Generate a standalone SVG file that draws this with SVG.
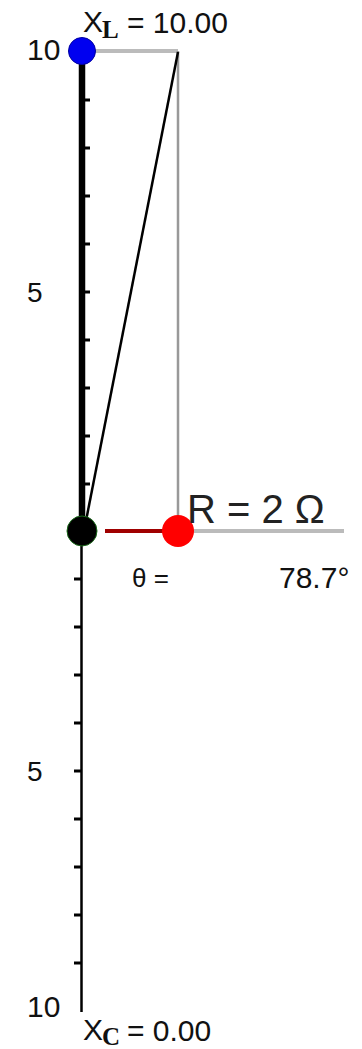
<svg xmlns="http://www.w3.org/2000/svg" width="362" height="1049" viewBox="0 0 362 1049">
<style>
text{font-family:"Liberation Sans",Arial,sans-serif;fill:#111}
.sub{font-family:"Liberation Serif","Times New Roman",serif;font-weight:bold}
.tick{stroke:#000;stroke-width:3}
.gray{stroke:#bbb;stroke-width:4;fill:none}
</style>
<rect width="362" height="1049" fill="#fff"/>
<g id="connectors">
<line class="gray" x1="83" y1="51" x2="178" y2="51"/>
<line x1="178" y1="51" x2="178" y2="531" stroke="#999" stroke-width="2.5"/>
<line class="gray" x1="178" y1="531" x2="344" y2="531"/>
<line x1="82" y1="51" x2="82" y2="531" stroke="#000" stroke-width="6.5"/>
<line x1="81.5" y1="531" x2="81.5" y2="1012" stroke="#000" stroke-width="2.5"/>
<line x1="178" y1="52" x2="84" y2="531" stroke="#000" stroke-width="2.5"/>
<line x1="105" y1="531" x2="165" y2="531" stroke="#a00000" stroke-width="4"/>
<g id="ticks-top">
<line class="tick" x1="84" y1="100" x2="90" y2="100"/>
<line class="tick" x1="84" y1="148" x2="90" y2="148"/>
<line class="tick" x1="84" y1="196" x2="90" y2="196"/>
<line class="tick" x1="84" y1="244" x2="90" y2="244"/>
<line class="tick" x1="84" y1="292" x2="90" y2="292"/>
<line class="tick" x1="84" y1="340" x2="90" y2="340"/>
<line class="tick" x1="84" y1="388" x2="90" y2="388"/>
<line class="tick" x1="84" y1="436" x2="90" y2="436"/>
<line class="tick" x1="84" y1="484" x2="90" y2="484"/>
</g>
<g id="ticks-bottom">
<line class="tick" x1="74" y1="579" x2="81" y2="579"/>
<line class="tick" x1="74" y1="627" x2="81" y2="627"/>
<line class="tick" x1="74" y1="675" x2="81" y2="675"/>
<line class="tick" x1="74" y1="723" x2="81" y2="723"/>
<line class="tick" x1="74" y1="771" x2="81" y2="771"/>
<line class="tick" x1="74" y1="819" x2="81" y2="819"/>
<line class="tick" x1="74" y1="867" x2="81" y2="867"/>
<line class="tick" x1="74" y1="915" x2="81" y2="915"/>
<line class="tick" x1="74" y1="963" x2="81" y2="963"/>
</g>
</g>
<g id="node-xl">
<circle cx="82" cy="51" r="13.5" fill="#0000f0" stroke="#0000a0" stroke-width="1"/>
</g>
<g id="node-origin">
<circle cx="82" cy="531" r="15" fill="#000" stroke="#1a6a1a" stroke-width="1"/>
</g>
<g id="node-r">
<circle cx="178" cy="531" r="16" fill="#ff0000"/>
</g>
<g id="labels">
<text x="83" y="32" font-size="30">X</text>
<text class="sub" x="102" y="38" font-size="25">L</text>
<text x="127" y="33" font-size="30">= 10.00</text>
<text x="27" y="60" font-size="30">10</text>
<text x="27" y="302" font-size="28">5</text>
<text x="27" y="781" font-size="28">5</text>
<text x="27" y="1017" font-size="30">10</text>
<text x="83" y="1040" font-size="30">X</text>
<text class="sub" x="102" y="1045" font-size="25">C</text>
<text x="127" y="1041" font-size="30">= 0.00</text>
<text x="187" y="523" font-size="40" style="fill:#222">R = 2 Ω</text>
<text x="132" y="587" font-size="26">θ =</text>
<text x="279" y="588" font-size="30">78.7°</text>
</g>
</svg>
